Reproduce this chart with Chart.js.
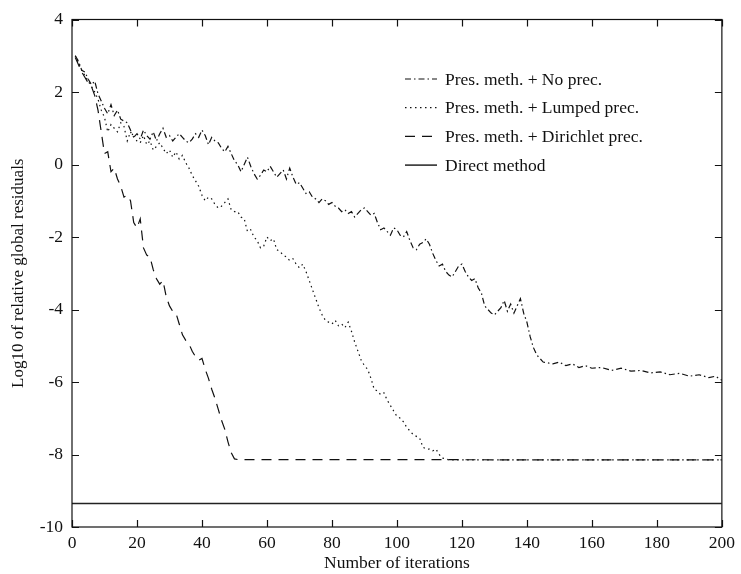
<!DOCTYPE html>
<html>
<head>
<meta charset="utf-8">
<script src="https://cdn.jsdelivr.net/npm/chart.js@4"></script>
<style>
  html, body { margin: 0; padding: 0; background: #fff; }
  #wrap { width: 741px; height: 574px; }
</style>
</head>
<body>
<div id="wrap"><canvas id="residualChart" width="741" height="574"></canvas></div>
<script>
const seriesLabels = [
  'Pres. meth. + No prec.',
  'Pres. meth. + Lumped prec.',
  'Pres. meth. + Dirichlet prec.',
  'Direct method',
];

// iteration number / log10 residual for each run
const noPrecIter = [
  1, 2, 3, 4, 5, 6, 7, 8, 9, 10, 11, 12, 13, 14, 15, 16, 17, 18, 19, 20,
  21, 22, 23, 24, 25, 26, 27, 28, 29, 30, 31, 32, 33, 34, 35, 36, 37, 38, 39, 40,
  41, 42, 43, 44, 45, 46, 47, 48, 49, 50, 51, 52, 53, 54, 55, 56, 57, 58, 59, 60,
  61, 62, 63, 64, 65, 66, 67, 68, 69, 70, 71, 72, 73, 74, 75, 76, 77, 78, 79, 80,
  81, 82, 83, 84, 85, 86, 87, 88, 89, 90, 91, 92, 93, 94, 95, 96, 97, 98, 99, 100,
  101, 102, 103, 104, 105, 106, 107, 108, 109, 110, 111, 112, 113, 114, 115, 116, 117, 118, 119, 120,
  121, 122, 123, 124, 125, 126, 127, 128, 129, 130, 131, 132, 133, 134, 135, 136, 137, 138, 139, 140,
  141, 142, 143, 144, 145, 148, 150, 152, 154, 156, 158, 160, 163, 166, 169, 172, 175, 178, 181, 184,
  187, 190, 193, 196, 198, 200,
];
const noPrecRes = [
  3.0, 2.85, 2.6, 2.55, 2.35, 2.2, 2.3, 1.95, 1.75, 1.55, 1.4, 1.65, 1.35, 1.5, 1.25, 1.2, 1.15, 0.95, 0.75, 0.85,
  0.7, 0.95, 0.8, 0.7, 0.9, 0.65, 0.85, 1.0, 0.75, 0.8, 0.65, 0.75, 0.85, 0.75, 0.65, 0.6, 0.7, 0.85, 0.75, 0.95,
  0.8, 0.55, 0.75, 0.65, 0.6, 0.45, 0.35, 0.5, 0.3, 0.1, 0.0, -0.2, 0.0, 0.2, -0.05, -0.25, -0.4, -0.3, -0.15, -0.2,
  -0.05, -0.2, -0.35, -0.25, -0.15, -0.4, -0.1, -0.35, -0.55, -0.5, -0.65, -0.8, -0.75, -0.9, -0.95, -1.05, -0.95, -1.0, -1.1, -1.05,
  -1.15, -1.2, -1.3, -1.25, -1.35, -1.3, -1.45, -1.35, -1.25, -1.2, -1.3, -1.4, -1.35, -1.6, -1.8, -1.75, -1.85, -1.95, -1.75, -1.8,
  -1.95, -2.0, -1.85, -2.1, -2.3, -2.35, -2.2, -2.15, -2.05, -2.2, -2.45, -2.65, -2.8, -2.75, -2.95, -3.05, -3.1, -2.95, -2.8, -2.75,
  -2.95, -3.1, -3.2, -3.15, -3.4, -3.55, -3.9, -4.0, -4.1, -4.15, -4.05, -3.95, -3.75, -4.05, -3.85, -4.1, -3.9, -3.7, -4.1, -4.35,
  -4.75, -5.05, -5.25, -5.35, -5.45, -5.5, -5.45, -5.55, -5.5, -5.6, -5.55, -5.62, -5.6, -5.68, -5.62, -5.7, -5.68, -5.75, -5.72, -5.8,
  -5.76, -5.84, -5.8, -5.88, -5.84, -5.95,
];

const lumpedIter = [
  1, 2, 3, 4, 5, 6, 7, 8, 9, 10, 11, 12, 13, 14, 15, 16, 17, 18, 19, 20,
  21, 22, 23, 24, 25, 26, 27, 28, 29, 30, 31, 32, 33, 34, 35, 36, 37, 38, 39, 40,
  41, 42, 43, 44, 45, 46, 47, 48, 49, 50, 51, 52, 53, 54, 55, 56, 57, 58, 59, 60,
  61, 62, 63, 64, 65, 66, 67, 68, 69, 70, 71, 72, 73, 74, 75, 76, 77, 78, 79, 80,
  81, 82, 83, 84, 85, 86, 87, 88, 89, 90, 91, 92, 93, 94, 95, 96, 97, 98, 99, 100,
  101, 102, 103, 104, 105, 106, 107, 108, 109, 110, 111, 112, 113, 114, 115, 116, 140, 170, 200,
];
const lumpedRes = [
  3.0, 2.8, 2.6, 2.45, 2.3, 2.15, 2.0, 1.8, 1.5, 1.3, 0.9, 1.1, 1.0, 0.9, 1.15, 1.05, 0.65, 0.9, 0.75, 0.65,
  0.6, 0.8, 0.55, 0.65, 0.4, 0.5, 0.6, 0.45, 0.3, 0.4, 0.2, 0.35, 0.15, 0.25, 0.05, -0.1, -0.3, -0.45, -0.6, -0.85,
  -1.0, -0.9, -0.95, -1.1, -1.2, -1.15, -1.05, -0.95, -1.25, -1.3, -1.3, -1.45, -1.5, -1.85, -1.8, -2.0, -2.1, -2.3, -2.25, -2.0,
  -2.1, -2.05, -2.35, -2.4, -2.5, -2.55, -2.65, -2.6, -2.75, -2.85, -2.75, -2.95, -3.2, -3.45, -3.7, -3.95, -4.15, -4.3, -4.35, -4.4,
  -4.3, -4.45, -4.4, -4.5, -4.35, -4.6, -4.9, -5.15, -5.4, -5.55, -5.65, -5.9, -6.2, -6.25, -6.35, -6.3, -6.5, -6.65, -6.8, -6.95,
  -7.0, -7.1, -7.25, -7.35, -7.45, -7.5, -7.55, -7.8, -7.85, -7.85, -7.9, -7.85, -8.0, -8.1, -8.12, -8.15, -8.15, -8.15, -8.15,
];

const dirichletIter = [
  1, 2, 3, 4, 5, 6, 7, 8, 9, 10, 11, 12, 13, 14, 15, 16, 17, 18, 19, 20,
  21, 22, 23, 24, 25, 26, 27, 28, 29, 30, 31, 32, 33, 34, 35, 36, 37, 38, 39, 40,
  41, 42, 43, 44, 45, 46, 47, 48, 49, 50, 51, 100, 150, 200,
];
const dirichletRes = [
  2.95, 2.75, 2.55, 2.4, 2.25, 2.15, 1.9, 1.5, 0.9, 0.3, 0.35, -0.2, -0.1, -0.4, -0.6, -0.9, -0.85, -1.0, -1.6, -1.75,
  -1.5, -2.3, -2.5, -2.55, -2.9, -3.15, -3.3, -3.2, -3.65, -3.9, -4.05, -4.1, -4.4, -4.7, -4.85, -4.95, -5.15, -5.3, -5.4, -5.35,
  -5.65, -5.9, -6.2, -6.45, -6.75, -7.05, -7.3, -7.65, -7.95, -8.12, -8.14, -8.14, -8.15, -8.15,
];

const directIter = [0, 200];
const directRes = [-9.35, -9.35];

const xTicks = [0, 20, 40, 60, 80, 100, 120, 140, 160, 180, 200];
const yTicks = [-10, -8, -6, -4, -2, 0, 2, 4];

const FONT = '"Liberation Serif", "Times New Roman", serif';

const toPoints = (xs, ys) => xs.map((x, i) => ({ x, y: ys[i] }));

// box frame with inward ticks on all four sides
const framePlugin = {
  id: 'frameTicks',
  afterDraw(chart) {
    const { ctx, chartArea: a, scales } = chart;
    const len = 7;
    ctx.save();
    ctx.strokeStyle = '#111';
    ctx.lineWidth = 1.2;
    ctx.strokeRect(a.left, a.top, a.right - a.left, a.bottom - a.top);
    ctx.beginPath();
    xTicks.forEach((v) => {
      const px = Math.round(scales.x.getPixelForValue(v)) + 0.5;
      ctx.moveTo(px, a.bottom); ctx.lineTo(px, a.bottom - len);
      ctx.moveTo(px, a.top); ctx.lineTo(px, a.top + len);
    });
    yTicks.forEach((v) => {
      const py = Math.round(scales.y.getPixelForValue(v)) + 0.5;
      ctx.moveTo(a.left, py); ctx.lineTo(a.left + len, py);
      ctx.moveTo(a.right, py); ctx.lineTo(a.right - len, py);
    });
    ctx.stroke();
    ctx.restore();
  },
};

// legend drawn inside the plot, upper right
const legendPlugin = {
  id: 'insideLegend',
  afterDatasetsDraw(chart) {
    const { ctx, chartArea: a } = chart;
    const x0 = a.left + 333;
    const sampleW = 32;
    const rowH = 28.7;
    let y = a.top + 59.5;
    ctx.save();
    ctx.font = '17.5px ' + FONT;
    ctx.textBaseline = 'middle';
    chart.data.datasets.forEach((ds) => {
      ctx.strokeStyle = ds.borderColor;
      ctx.lineWidth = ds.borderWidth;
      ctx.setLineDash(ds.borderDash || []);
      ctx.beginPath();
      ctx.moveTo(x0, y);
      ctx.lineTo(x0 + sampleW, y);
      ctx.stroke();
      ctx.setLineDash([]);
      ctx.fillStyle = '#111';
      ctx.fillText(ds.label, x0 + 40, y + 1);
      y += rowH;
    });
    ctx.restore();
  },
};

const lineStyle = {
  parsing: false,
  fill: false,
  pointRadius: 0,
  tension: 0,
  borderColor: '#111',
  borderWidth: 1.2,
};

new Chart(document.getElementById('residualChart'), {
  type: 'line',
  data: {
    datasets: [
      { ...lineStyle, label: seriesLabels[0], data: toPoints(noPrecIter, noPrecRes), borderDash: [6, 3, 1.5, 3] },
      { ...lineStyle, label: seriesLabels[1], data: toPoints(lumpedIter, lumpedRes), borderDash: [1.5, 3.5] },
      { ...lineStyle, label: seriesLabels[2], data: toPoints(dirichletIter, dirichletRes), borderDash: [10, 7] },
      { ...lineStyle, label: seriesLabels[3], data: toPoints(directIter, directRes), borderWidth: 1.5, borderColor: '#222' },
    ],
  },
  options: {
    responsive: false,
    animation: false,
    layout: { padding: { top: 13, right: 13, left: 0, bottom: 0 } },
    plugins: {
      legend: { display: false },
      tooltip: { enabled: false },
    },
    scales: {
      x: {
        type: 'linear',
        min: 0,
        max: 200,
        afterBuildTicks: (scale) => { scale.ticks = xTicks.map((v) => ({ value: v })); },
        afterFit: (scale) => { scale.height = 47; },
        grid: { display: false, drawTicks: false },
        border: { display: false },
        ticks: {
          color: '#111',
          padding: 6,
          maxRotation: 0,
          font: { family: FONT, size: 17.5 },
        },
        title: {
          display: true,
          text: 'Number of iterations',
          color: '#111',
          padding: { top: 0, bottom: 0 },
          font: { family: FONT, size: 17.5 },
        },
      },
      y: {
        type: 'linear',
        min: -10,
        max: 4,
        afterBuildTicks: (scale) => { scale.ticks = yTicks.map((v) => ({ value: v })); },
        afterFit: (scale) => { scale.width = 72; },
        grid: { display: false, drawTicks: false },
        border: { display: false },
        ticks: {
          color: '#111',
          padding: 9,
          font: { family: FONT, size: 17.5 },
        },
        title: {
          display: true,
          text: 'Log10 of relative global residuals',
          color: '#111',
          padding: { top: 8, bottom: 0 },
          font: { family: FONT, size: 17 },
        },
      },
    },
  },
  plugins: [framePlugin, legendPlugin],
});
</script>
</body>
</html>
